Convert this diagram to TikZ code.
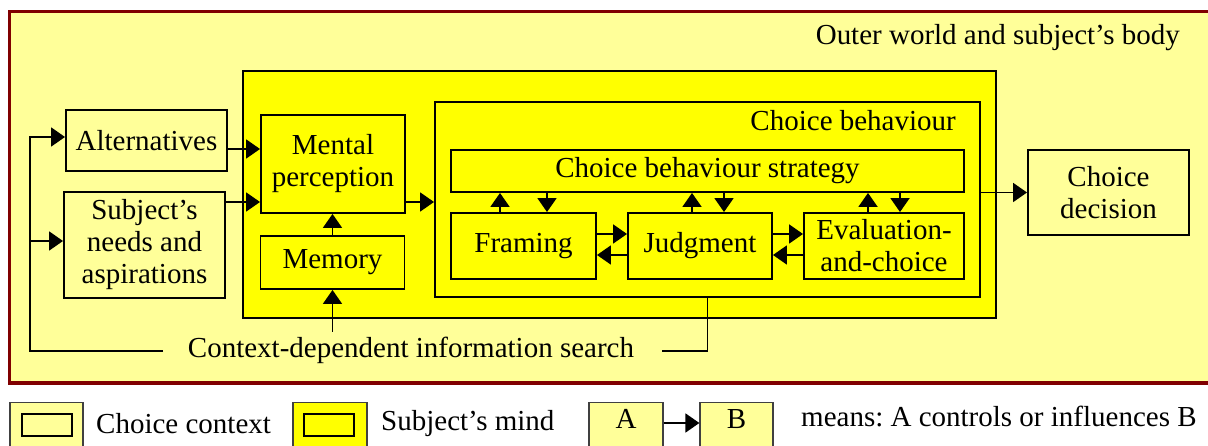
\documentclass[tikz,border=0pt]{standalone}
\usepackage{fontspec}
\setmainfont{Liberation Serif}
\usetikzlibrary{arrows.meta}
\definecolor{CCFrame}{HTML}{800000}
\definecolor{CCContext}{HTML}{FFFF99}
\definecolor{CCMind}{HTML}{FFFF00}
\frenchspacing

\begin{document}
\begin{tikzpicture}[x=1cm,y=1cm,
  font=\fontsize{16.5}{18.2}\selectfont,
  box/.style={draw=black,line width=1.1pt,align=center,inner sep=0pt},
  ctxbox/.style={box,fill=CCContext},
  mindbox/.style={box,fill=CCMind},
  keybox/.style={draw=black!75,line width=0.7pt,anchor=north,inner sep=0pt},
  link/.style={line width=1.1pt,-{Triangle[length=0.28cm,width=0.38cm]}},
  wire/.style={line width=1.1pt}]
\path[use as bounding box] (0,0) rectangle (24.16,8.92);
% outer world frame
\draw[CCFrame,line width=2pt,fill=CCContext] (0.19,8.69) rectangle (24.40,1.26);
\node[anchor=base east] (outer) at (23.72,8.02) {Outer world and subject’s body};
% subject's mind and choice behaviour
\node[mindbox,minimum width=15.06cm,minimum height=4.94cm] (mind) at (12.39,5.03) {};
\node[box,minimum width=10.90cm,minimum height=3.90cm] (behav) at (14.15,4.93) {};
\node[anchor=base east] (behavlbl) at (19.24,6.30) {Choice behaviour};
% boxes
\node[ctxbox,minimum width=3.22cm,minimum height=1.22cm] (alt) at (2.93,6.11) {Alternatives};
\node[ctxbox,minimum width=3.22cm,minimum height=2.12cm] (needs) at (2.89,4.02) {Subject’s\\needs and\\aspirations};
\node[mindbox,minimum width=2.88cm,minimum height=1.96cm] (ment) at (6.66,5.64) {Mental\\perception};
\node[mindbox,minimum width=2.88cm,minimum height=1.06cm] (mem) at (6.65,3.67) {Memory};
\node[mindbox,minimum width=10.26cm,minimum height=0.84cm] (strat) at (14.15,5.50) {Choice behaviour strategy};
\node[mindbox,minimum width=2.90cm,minimum height=1.32cm] (frm) at (10.47,4.00) {Framing};
\node[mindbox,minimum width=2.88cm,minimum height=1.32cm] (jdg) at (14.00,4.00) {Judgment};
\node[mindbox,minimum width=3.20cm,minimum height=1.32cm] (evl) at (17.68,4.00) {Evaluation-\\and-choice};
\node[ctxbox,minimum width=3.22cm,minimum height=1.70cm] (dec) at (22.17,5.07) {Choice\\decision};
\node[anchor=base] (ctx) at (8.22,1.76) {Context-dependent information search};
\coordinate (ctxL) at (3.26,1.90);
\coordinate (ctxR) at (13.24,1.90);
\coordinate (ctxU) at (6.65,2.28);
% connectors
\draw[link] (alt.east |- 0,5.94) -- (ment.west |- 0,5.94);
\draw[link] (needs.east |- 0,4.88) -- (ment.west |- 0,4.88);
\draw[link] (ment.east |- 0,4.88) -- (behav.west |- 0,4.88);
\draw[link] (mem.north) -- (mem.north |- ment.south);
\draw[link] (ctxU) -- (mem.south);
\draw[link] (ctxL) -| (0.60,6.18) -- (alt.west |- 0,6.18);
\draw[link] (0.60,4.10) -- (needs.west |- 0,4.10);
\draw[wire] (ctxR) -| (behav.south);
\draw[link] (behav.east |- dec.west) -- (dec.west);
\foreach \nd/\up/\dn in {frm/10.00/10.94, jdg/13.84/14.48, evl/17.36/18.00} {
  \draw[link] (\nd.north -| \up,0) -- (strat.south -| \up,0);
  \draw[link] (strat.south -| \dn,0) -- (\nd.north -| \dn,0);
}
\draw[link] (frm.east |- 0,4.24) -- (jdg.west |- 0,4.24);
\draw[link] (jdg.west |- 0,3.82) -- (frm.east |- 0,3.82);
\draw[link] (jdg.east |- 0,4.24) -- (evl.west |- 0,4.24);
\draw[link] (evl.west |- 0,3.82) -- (jdg.east |- 0,3.82);
% legend
\node[keybox,fill=CCContext,minimum width=1.46cm,minimum height=1.2cm] (keyctx) at (0.93,0.88) {};
\node[box,fill=CCContext,minimum width=1.00cm,minimum height=0.44cm] (keyctxin) at (0.94,0.42) {};
\node[anchor=base west] (keyctxlbl) at (1.80,0.24) {Choice context};
\node[keybox,fill=CCMind,minimum width=1.48cm,minimum height=1.2cm] (keymind) at (6.60,0.88) {};
\node[box,fill=CCMind,minimum width=1.00cm,minimum height=0.44cm] (keymindin) at (6.58,0.42) {};
\node[anchor=base west] (keymindlbl) at (7.50,0.30) {Subject’s mind};
\node[keybox,fill=CCContext,minimum width=1.48cm,text height=0.52cm,text depth=0.68cm] (keyA) at (12.52,0.88) {A};
\node[keybox,fill=CCContext,minimum width=1.46cm,text height=0.52cm,text depth=0.68cm] (keyB) at (14.73,0.88) {B};
\draw[link] (keyA.east |- 0,0.46) -- (keyB.west |- 0,0.46);
\node[anchor=base west] (keylbl) at (15.90,0.38) {means: A controls or influences B};
\end{tikzpicture}
\end{document}
